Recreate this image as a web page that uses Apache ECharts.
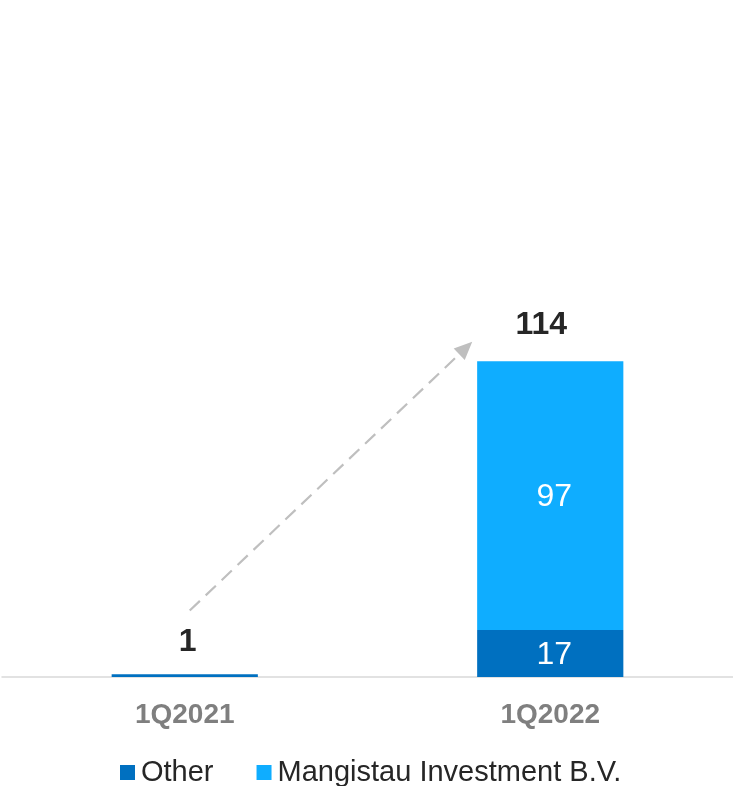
<!DOCTYPE html>
<html>
<head>
<meta charset="utf-8">
<script src="https://cdn.jsdelivr.net/npm/echarts@6/dist/echarts.min.js"></script>
<style>
html,body{margin:0;padding:0;background:#fff;}
#c{width:733px;height:786px;}
</style>
</head>
<body>
<div id="c"></div>
<script>
var categories = ['1Q2021', '1Q2022'];
var otherValues = [1, 17];
var mangistauValues = [0, 97];
var totals = [1, 114];
var seriesNames = ['Other', 'Mangistau Investment B.V.'];

var FONT = '"Liberation Sans", Arial, sans-serif';
var chart = echarts.init(document.getElementById('c'));

var totalLabelOffsets = [[3, 8], [-9, 4]];

var segLabel = {
  show: true,
  position: 'inside',
  color: '#ffffff',
  fontSize: 32,
  fontFamily: FONT,
  offset: [4, 2],
  formatter: function (p) { return p.value >= 5 ? String(p.value) : ''; }
};

var option = {
  animation: false,
  textStyle: { fontFamily: FONT },
  grid: { left: 2, right: 0, top: 123, bottom: 109 },
  legend: {
    top: 753,
    left: 115,
    itemWidth: 15,
    itemHeight: 15,
    itemGap: 43,
    icon: 'rect',
    textStyle: { fontSize: 29, color: '#262626', fontFamily: FONT, padding: [0, 0, 0, 1] },
    data: seriesNames
  },
  xAxis: {
    type: 'category',
    data: categories,
    axisLine: { lineStyle: { color: '#d9d9d9', width: 1.5 } },
    axisTick: { show: false },
    axisLabel: { fontSize: 28, fontWeight: 'bold', color: '#7f7f7f', margin: 24, fontFamily: FONT }
  },
  yAxis: {
    type: 'value',
    min: 0,
    max: 200,
    show: false,
    splitLine: { show: false }
  },
  series: [
    {
      name: seriesNames[0],
      type: 'bar',
      stack: 'total',
      barWidth: '40%',
      data: otherValues,
      itemStyle: { color: '#0070C0' },
      label: segLabel
    },
    {
      name: seriesNames[1],
      type: 'bar',
      stack: 'total',
      barWidth: '40%',
      data: mangistauValues,
      itemStyle: { color: '#0FADFF' },
      label: segLabel
    },
    {
      name: 'total',
      type: 'bar',
      stack: 'total',
      barWidth: '40%',
      data: totals.map(function (t, i) {
        return { value: 0, label: { offset: totalLabelOffsets[i] } };
      }),
      itemStyle: { color: 'transparent' },
      legendHoverLink: false,
      label: {
        show: true,
        position: 'top',
        distance: 24,
        color: '#262626',
        fontSize: 32,
        fontWeight: 'bold',
        fontFamily: FONT,
        formatter: function (p) { return String(totals[p.dataIndex]); }
      }
    }
  ]
};
chart.setOption(option);

// Dashed growth arrow annotation, positioned through the chart's scales
var p0 = chart.convertToPixel({ gridIndex: 0 }, [0, 24]);
var p1 = chart.convertToPixel({ gridIndex: 0 }, [1, 121]);
var start = [p0[0] + 5, p0[1]];
var tip = [p1[0] - 78, p1[1]];
var dx = tip[0] - start[0], dy = tip[1] - start[1];
var len = Math.sqrt(dx * dx + dy * dy);
var ux = dx / len, uy = dy / len;
var headLen = 18, headHalf = 8;
var base = [tip[0] - ux * headLen, tip[1] - uy * headLen];
var nx = -uy, ny = ux;
chart.setOption({
  graphic: [
    {
      type: 'line',
      shape: { x1: start[0], y1: start[1], x2: base[0] + ux * 2, y2: base[1] + uy * 2 },
      style: { stroke: '#bfbfbf', lineWidth: 2.2, lineDash: [14, 8] },
      silent: true
    },
    {
      type: 'polygon',
      shape: { points: [tip, [base[0] + nx * headHalf, base[1] + ny * headHalf], [base[0] - nx * headHalf, base[1] - ny * headHalf]] },
      style: { fill: '#bfbfbf' },
      silent: true
    }
  ]
});
</script>
</body>
</html>
